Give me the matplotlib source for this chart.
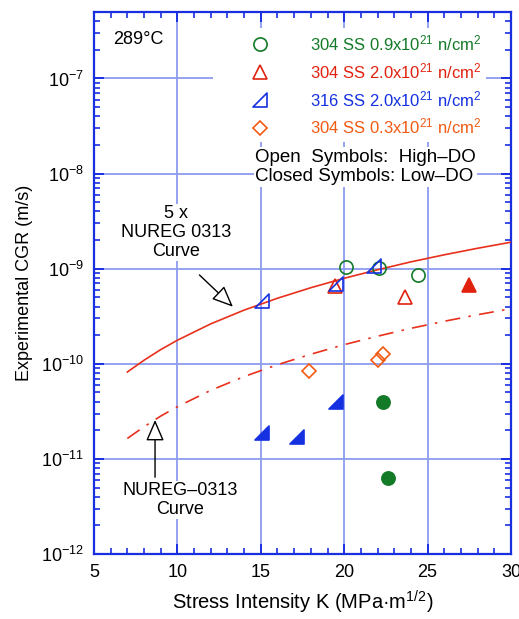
import matplotlib
matplotlib.use("Agg")
import matplotlib.pyplot as plt
from matplotlib.path import Path
from matplotlib.lines import Line2D
from matplotlib.ticker import LogLocator, MultipleLocator, NullFormatter

plt.rcParams['font.family'] = ['Liberation Sans', 'DejaVu Sans']
plt.rcParams['mathtext.fontset'] = 'custom'
plt.rcParams['mathtext.rm'] = 'Liberation Sans'
plt.rcParams['mathtext.default'] = 'regular'

# ----------------- data -----------------
# 304 SS 0.9x10^21 n/cm2
k_304_09_open = [20.1, 22.1, 24.4]
cgr_304_09_open = [1.05e-9, 1.02e-9, 8.6e-10]
k_304_09_closed = [22.3, 22.6]
cgr_304_09_closed = [4.0e-11, 6.3e-12]

# 304 SS 2.0x10^21 n/cm2
k_304_20_open = [19.45, 23.65]
cgr_304_20_open = [6.5e-10, 5.1e-10]
k_304_20_closed = [27.5]
cgr_304_20_closed = [6.8e-10]

# 316 SS 2.0x10^21 n/cm2
k_316_20_open = [15.1, 19.5, 21.8]
cgr_316_20_open = [4.6e-10, 6.9e-10, 1.07e-9]
k_316_20_closed = [15.1, 17.2, 19.5]
cgr_316_20_closed = [1.88e-11, 1.7e-11, 4.0e-11]

# 304 SS 0.3x10^21 n/cm2
k_304_03_open = [17.9, 22.0, 22.3]
cgr_304_03_open = [8.4e-11, 1.1e-10, 1.27e-10]

# NUREG-0313 curve and 5x curve
k_curve = [7, 8, 9, 10, 12, 14, 16, 18, 20, 22, 24, 26, 28, 30]
cgr_nureg = [1.64e-11, 2.18e-11, 2.82e-11, 3.54e-11, 5.26e-11, 7.34e-11, 9.78e-11,
             1.26e-10, 1.59e-10, 1.95e-10, 2.36e-10, 2.80e-10, 3.28e-10, 3.80e-10]
cgr_nureg_5x = [8.2e-11, 1.09e-10, 1.41e-10, 1.77e-10, 2.63e-10, 3.67e-10, 4.89e-10,
                6.31e-10, 7.93e-10, 9.74e-10, 1.18e-9, 1.40e-9, 1.64e-9, 1.90e-9]

# ----------------- styles -----------------
GREEN = '#137a28'
RED = '#e0220f'
BLUE = '#1530e0'
ORANGE = '#f05a12'
CURVE = '#e8301c'
AXBLUE = '#1a2fe0'
GRID = '#8c9cf0'

right_tri = Path([(-1, -1), (1, -1), (1, 1), (-1, -1)],
                 [Path.MOVETO, Path.LINETO, Path.LINETO, Path.CLOSEPOLY])

fig = plt.figure(figsize=(5.19, 6.19), dpi=100)
ax = fig.add_axes([0.1811, 0.105, 0.8035, 0.8756])

ax.plot(k_curve, cgr_nureg_5x, '-', color=CURVE, lw=1.2, zorder=3)
ax.plot(k_curve, cgr_nureg, color=CURVE, lw=1.2, dashes=(9, 5, 1.5, 5), zorder=3)

ms = 9.5
mew = 1.2
ax.plot(k_304_09_open, cgr_304_09_open, 'o', ms=ms, mfc='none', mec=GREEN, mew=mew, zorder=4)
ax.plot(k_304_09_closed, cgr_304_09_closed, 'o', ms=ms, mfc=GREEN, mec=GREEN, mew=mew, zorder=4)
ax.plot(k_304_20_open, cgr_304_20_open, '^', ms=ms + 1, mfc='none', mec=RED, mew=mew, zorder=4)
ax.plot(k_304_20_closed, cgr_304_20_closed, '^', ms=ms + 1, mfc=RED, mec=RED, mew=mew, zorder=4)
ax.plot(k_316_20_open, cgr_316_20_open, marker=right_tri, ls='none', ms=ms, mfc='none',
        mec=BLUE, mew=mew, zorder=5)
ax.plot(k_316_20_closed, cgr_316_20_closed, marker=right_tri, ls='none', ms=ms, mfc=BLUE,
        mec=BLUE, mew=mew, zorder=5)
ax.plot(k_304_03_open, cgr_304_03_open, 'D', ms=7.5, mfc='none', mec=ORANGE, mew=mew, zorder=4)

ax.set_yscale('log')
ax.set_xlim(5, 30)
ax.set_ylim(1e-12, 5e-7)

ax.xaxis.set_major_locator(MultipleLocator(5))
ax.xaxis.set_minor_locator(MultipleLocator(1))
ax.yaxis.set_major_locator(LogLocator(base=10, numticks=20))
ax.yaxis.set_minor_locator(LogLocator(base=10, subs=range(2, 10), numticks=20))
ax.yaxis.set_minor_formatter(NullFormatter())

ax.grid(True, which='major', color=GRID, lw=1.3, zorder=0)
ax.set_axisbelow(True)
for sp in ax.spines.values():
    sp.set_color(AXBLUE)
    sp.set_linewidth(1.6)
ax.tick_params(which='both', direction='in', top=True, right=True, color=AXBLUE,
               labelsize=13, pad=7)
ax.tick_params(which='major', length=7.5, width=1.4)
ax.tick_params(which='minor', length=4, width=1.2)

ax.set_xlabel('Stress Intensity K (MPa\u00b7m$^{1/2}$)', fontsize=14.5, labelpad=6)
ax.set_ylabel('Experimental CGR (m/s)', fontsize=13, labelpad=6)

ax.text(0.045, 0.965, '289\u00b0C', transform=ax.transAxes, fontsize=13,
        ha='left', va='top')

handles = [
    Line2D([], [], ls='none', marker='o', ms=ms, mfc='none', mec=GREEN, mew=mew),
    Line2D([], [], ls='none', marker='^', ms=ms + 1, mfc='none', mec=RED, mew=mew),
    Line2D([], [], ls='none', marker=right_tri, ms=ms, mfc='none', mec=BLUE, mew=mew),
    Line2D([], [], ls='none', marker='D', ms=7.5, mfc='none', mec=ORANGE, mew=mew),
]
labels = ['304 SS 0.9x10$^{21}$ n/cm$^2$', '304 SS 2.0x10$^{21}$ n/cm$^2$',
          '316 SS 2.0x10$^{21}$ n/cm$^2$', '304 SS 0.3x10$^{21}$ n/cm$^2$']
leg = ax.legend(handles, labels, loc='upper left', bbox_to_anchor=(0.285, 0.970),
                fontsize=12, labelcolor=[GREEN, RED, BLUE, ORANGE], frameon=True,
                facecolor='white', edgecolor='none', framealpha=1, fancybox=False,
                handlelength=5.0, handletextpad=0.5, labelspacing=0.48,
                borderpad=0.3, borderaxespad=0)
leg.set_zorder(6)

ax.text(0.386, 0.714, 'Open  Symbols:  High\u2013DO\nClosed Symbols: Low\u2013DO',
        transform=ax.transAxes, fontsize=13.5, ha='left', va='center', linespacing=1.2,
        bbox=dict(facecolor='white', edgecolor='none', pad=1), zorder=6)

ax.text(9.9, 2.4e-9, '5 x\nNUREG 0313\nCurve', fontsize=13, ha='center', va='center',
        linespacing=1.15, bbox=dict(facecolor='white', edgecolor='none', pad=1), zorder=6)
ax.annotate('', xy=(13.45, 3.8e-10), xytext=(11.2, 9.0e-10),
            arrowprops=dict(arrowstyle='-|>,head_length=0.65,head_width=0.28',
                            mutation_scale=20, fc='white', ec='black', lw=1.0),
            zorder=6)

ax.text(10.15, 3.7e-12, 'NUREG\u20130313\nCurve', fontsize=13, ha='center', va='center',
        linespacing=1.15, bbox=dict(facecolor='white', edgecolor='none', pad=1), zorder=6)
ax.annotate('', xy=(8.66, 2.75e-11), xytext=(8.66, 6.0e-12),
            arrowprops=dict(arrowstyle='-|>,head_length=0.65,head_width=0.28',
                            mutation_scale=20, fc='white', ec='black', lw=1.0),
            zorder=6)

fig.savefig('out.png', dpi=100)
